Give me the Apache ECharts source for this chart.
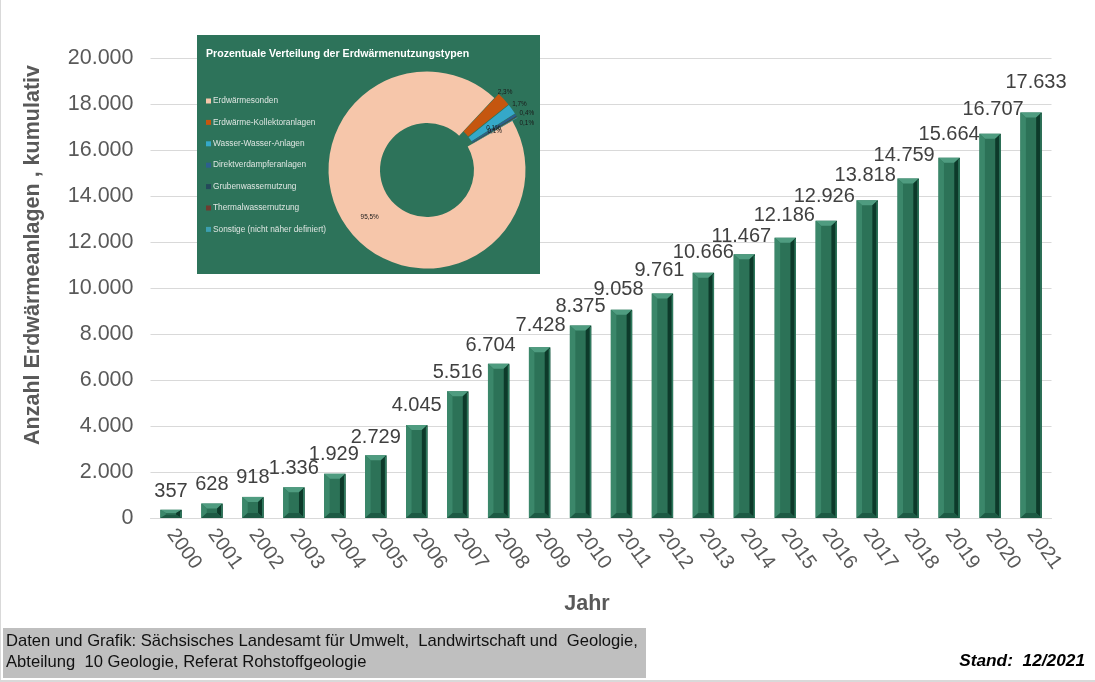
<!DOCTYPE html>
<html>
<head>
<meta charset="utf-8">
<title>Erdwärmeanlagen</title>
<script src="https://cdn.jsdelivr.net/npm/echarts@6/dist/echarts.min.js"></script>
<style>
  html, body { margin: 0; padding: 0; background: #fff; }
  #main { width: 1095px; height: 682px; }
</style>
</head>
<body>
<div id="main"></div>
<script>
var years = ['2000','2001','2002','2003','2004','2005','2006','2007','2008','2009','2010',
  '2011','2012','2013','2014','2015','2016','2017','2018','2019','2020','2021'];
var anlagen = [357,628,918,1336,1929,2729,4045,5516,6704,7428,8375,
  9058,9761,10666,11467,12186,12926,13818,14759,15664,16707,17633];
// hand placed data labels in the original, nudged per year
var labelDx = [0,0,0,0,-1,0,0,0,-8,1,0,-3,-3,0,-3,-1,-2,-2,-4,0,3,5];
var labelDy = [-3,-4,-4,-4,-4,-3,-4,-4,-3,-7,-4,-5,-8,-5,-3,-7,-9,-10,-8,-8,-9,-15];

var typen = ['Erdwärmesonden','Erdwärme-Kollektoranlagen','Wasser-Wasser-Anlagen',
  'Direktverdampferanlagen','Grubenwassernutzung','Thermalwassernutzung','Sonstige (nicht näher definiert)'];
var anteile = [95.5,2.3,1.7,0.4,0.1,0.1,0.1];
var typFarben = ['#f6c6aa','#c5560f','#35a8c9','#2d5f8e','#24495a','#6f3b30','#3c9fb0'];
var anteilDx = [2,-47,-42,-39,-40,-4,-3];
var anteilDy = [0,3,4,6,15,0,2];

function deNumber(v) {
  return String(v).replace(/\B(?=(\d{3})+$)/g, '.');
}

var myChart = echarts.init(document.getElementById('main'), null, { renderer: 'canvas' });

function bevel(params, api) {
  var i = api.value(0);
  var top = api.coord([i, api.value(1)]);
  var base = api.coord([i, 0]);
  var w = api.size([1, 0])[0] * 0.52;
  var l = top[0] - w / 2, r = top[0] + w / 2, t = top[1], b = base[1];
  var sx = 5.5, sy = Math.min(5, (b - t) / 2.5);
  function poly(points, fill) {
    return { type: 'polygon', shape: { points: points }, style: { fill: fill } };
  }
  return {
    type: 'group',
    children: [
      poly([[l, t], [r, t], [r, b], [l, b]], '#2c7257'),
      poly([[l, t], [r, t], [r - sx, t + sy], [l + sx, t + sy]], '#4f9c80'),
      poly([[l, t], [l + sx, t + sy], [l + sx, b - sy], [l, b]], '#3b876a'),
      poly([[r, t], [r - sx, t + sy], [r - sx, b - sy], [r, b]], '#0d3a2a'),
      poly([[r, t + 1], [r - 1.5, t + 2], [r - 1.5, b - 1], [r, b]], '#2f7a5e'),
      poly([[l, b], [r, b], [r - sx, b - sy], [l + sx, b - sy]], '#1d5a44')
    ]
  };
}

var option = {
  animation: false,
  backgroundColor: '#ffffff',
  textStyle: { fontFamily: '"Liberation Sans", Arial, sans-serif' },
  title: {
    text: 'Prozentuale Verteilung der Erdwärmenutzungstypen',
    left: 206,
    top: 49,
    padding: 0,
    textStyle: { color: '#ffffff', fontSize: 10.6, fontWeight: 'bold' }
  },
  legend: {
    orient: 'vertical',
    left: 206,
    top: 97,
    padding: 0,
    itemWidth: 5,
    itemHeight: 5,
    itemGap: 13.4,
    icon: 'rect',
    data: typen,
    selectedMode: false,
    textStyle: { color: '#dfe6e2', fontSize: 8.3, padding: [0, 0, 0, -3] }
  },
  grid: { left: 150.5, right: 43.5, top: 58, height: 460 },
  xAxis: {
    type: 'category',
    data: years,
    name: 'Jahr',
    nameLocation: 'middle',
    nameGap: 75,
    nameTextStyle: { color: '#595959', fontSize: 21.5, fontWeight: 'bold', padding: [0, 28, 0, 0] },
    axisTick: { show: false },
    axisLine: { lineStyle: { color: '#d9d9d9', width: 1 } },
    axisLabel: { color: '#595959', fontSize: 20, rotate: -54, margin: 13, interval: 0, padding: [8, 0, 0, 0] }
  },
  yAxis: {
    type: 'value',
    min: 0,
    max: 20000,
    interval: 2000,
    name: 'Anzahl Erdwärmeanlagen , kumulativ',
    nameLocation: 'middle',
    nameGap: 106,
    nameTextStyle: { color: '#595959', fontSize: 21.5, fontWeight: 'bold', padding: [0, 0, 0, 66] },
    axisLine: { show: false },
    axisTick: { show: false },
    splitLine: { lineStyle: { color: '#d9d9d9', width: 1 } },
    axisLabel: { color: '#595959', fontSize: 21.5, margin: 17, formatter: deNumber }
  },
  series: [
    {
      type: 'custom',
      renderItem: bevel,
      silent: true,
      z: 2,
      data: anlagen.map(function (v, i) { return [i, v]; })
    },
    {
      // invisible bar, only carries the value labels above the bevelled bars
      type: 'bar',
      barWidth: '52%',
      z: 3,
      itemStyle: { color: 'transparent' },
      data: anlagen.map(function (v, i) {
        return {
          value: v,
          label: { offset: [labelDx[i], labelDy[i]] }
        };
      }),
      label: {
        show: true,
        position: 'top',
        color: '#404040',
        fontSize: 20,
        formatter: function (p) { return deNumber(p.value); }
      }
    },
    {
      type: 'pie',
      center: [427, 170],
      radius: [47, 98.5],
      startAngle: 30,
      z: 4,
      selectedMode: 'multiple',
      selectedOffset: 6,
      avoidLabelOverlap: false,
      data: typen.map(function (name, i) {
        return {
          name: name,
          value: anteile[i],
          selected: i > 0,
          itemStyle: { color: typFarben[i] },
          label: { position: i === 0 || i > 4 ? 'inside' : 'outside' }
        };
      }),
      label: {
        color: '#1a1a1a',
        fontSize: 6.4,
        distanceToLabelLine: 0,
        formatter: function (p) { return String(p.value).replace('.', ',') + '%'; }
      },
      labelLine: { show: false },
      labelLayout: function (p) {
        return { dx: anteilDx[p.dataIndex], dy: anteilDy[p.dataIndex] };
      }
    }
  ],
  graphic: [
    { type: 'rect', z: 1, shape: { x: 197, y: 35, width: 343, height: 239 }, style: { fill: '#2d735a' } },
    { type: 'rect', z: 1, shape: { x: 3, y: 628, width: 643, height: 50 }, style: { fill: '#bfbfbf' } },
    { type: 'rect', z: 1, shape: { x: 0, y: 0, width: 1, height: 682 }, style: { fill: '#d9d9d9' } },
    { type: 'rect', z: 1, shape: { x: 0, y: 680, width: 1095, height: 2 }, style: { fill: '#d9d9d9' } },
    {
      type: 'text', z: 2, x: 6, y: 631,
      style: {
        text: 'Daten und Grafik: Sächsisches Landesamt für Umwelt,  Landwirtschaft und  Geologie,\nAbteilung  10 Geologie, Referat Rohstoffgeologie',
        fill: '#111111', font: '16.6px "Liberation Sans", Arial, sans-serif', lineHeight: 21
      }
    },
    {
      type: 'text', z: 2, x: 1085, y: 653,
      style: {
        text: 'Stand:  12/2021', align: 'right',
        fill: '#000000', font: 'italic bold 17.3px "Liberation Sans", Arial, sans-serif'
      }
    }
  ]
};

myChart.setOption(option);
</script>
</body>
</html>
